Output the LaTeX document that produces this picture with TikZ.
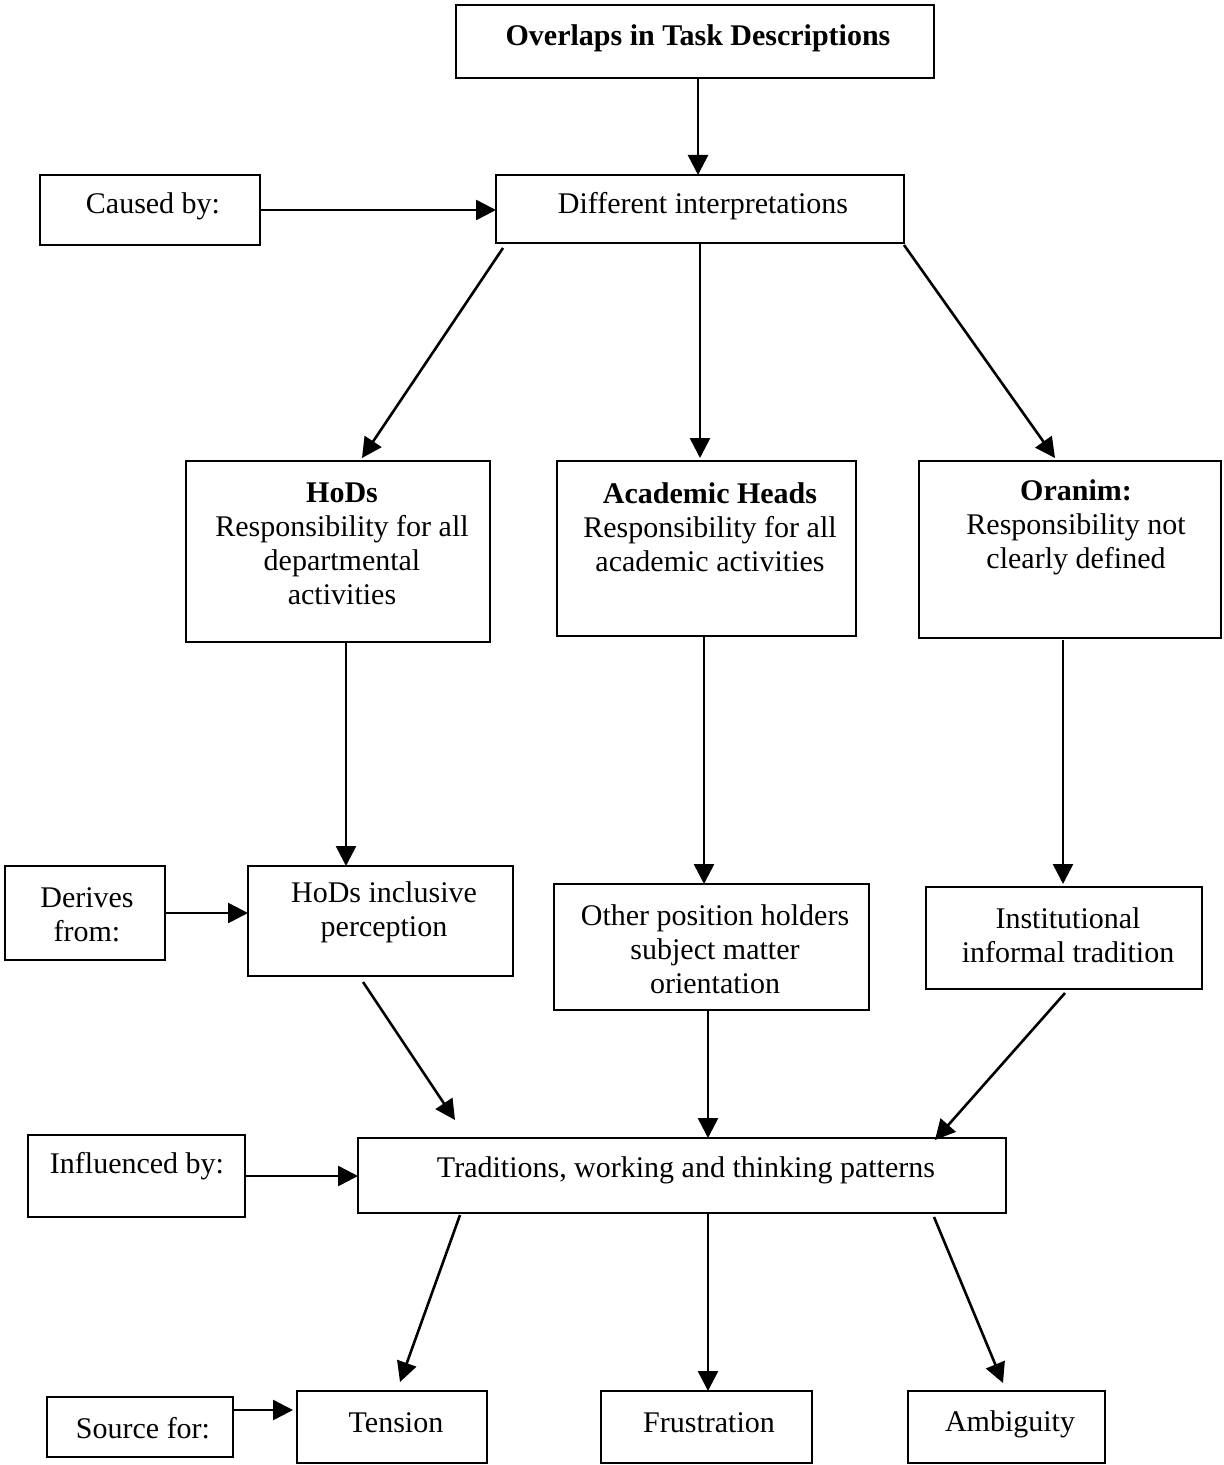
\documentclass[tikz,border=0pt]{standalone}
\usepackage{fontspec}
\setmainfont{Liberation Serif}
\usetikzlibrary{calc,arrows.meta,fit}
\begin{document}
\begin{tikzpicture}[x=0.5pt,y=-0.5pt,
  box/.style={draw,line width=1.3pt,inner sep=0pt,outer sep=0pt},
  lbl/.style={font=\fontsize{15}{17}\selectfont,align=center,inner sep=0pt},
  arr/.style={-{Triangle[length=10pt,width=10pt]},line width=1.3pt}]
\useasboundingbox (0,0) rectangle (1223,1465);
% boxes
\node[box,fit={(456,5) (934,78)}] (over) {};
\node[box,fit={(40,175) (260,245)}] (caused) {};
\node[box,fit={(496,175) (904,243)}] (diff) {};
\node[box,fit={(186,461) (490,642)}] (hods) {};
\node[box,fit={(557,461) (856,636)}] (acad) {};
\node[box,fit={(919,461) (1221,638)}] (oran) {};
\node[box,fit={(5,866) (165,960)}] (derives) {};
\node[box,fit={(248,866) (513,976)}] (hodsinc) {};
\node[box,fit={(554,884) (869,1010)}] (other) {};
\node[box,fit={(926,887) (1202,989)}] (inst) {};
\node[box,fit={(28,1135) (245,1217)}] (infl) {};
\node[box,fit={(358,1138) (1006,1213)}] (trad) {};
\node[box,fit={(47,1397) (233,1457)}] (source) {};
\node[box,fit={(297,1391) (487,1463)}] (tension) {};
\node[box,fit={(601,1391) (812,1463)}] (frust) {};
\node[box,fit={(908,1391) (1105,1463)}] (ambig) {};
% texts
\node[lbl] (t1) at (698,38) {\textbf{Overlaps in Task Descriptions}};
\node[lbl] (t2) at (153,206) {Caused by:};
\node[lbl] (t3) at (703,206) {Different interpretations};
\node[lbl] (t4) at (342,544) {\textbf{HoDs}\\Responsibility for all\\departmental\\activities};
\node[lbl] (t5) at (710,527) {\textbf{Academic Heads}\\Responsibility for all\\academic activities};
\node[lbl] (t6) at (1076,527) {\textbf{Oranim:}\\Responsibility not\\clearly defined};
\node[lbl] (t7) at (87,915) {Derives\\from:};
\node[lbl] (t8) at (384,912) {HoDs inclusive\\perception};
\node[lbl] (t9) at (715,949) {Other position holders\\subject matter\\orientation};
\node[lbl] (t10) at (1068,935) {Institutional\\informal tradition};
\node[lbl] (t11) at (137,1166) {Influenced by:};
\node[lbl] (t12) at (686,1170) {Traditions, working and thinking patterns};
\node[lbl] (t13) at (143,1428) {Source for:};
\node[lbl] (t14) at (396,1423) {Tension};
\node[lbl] (t15) at (709,1423) {Frustration};
\node[lbl] (t16) at (1010,1424) {Ambiguity};
% arrows
\draw[arr] ($(over.south)+(3,0)$) -- ($(diff.north west)+(202,0)$);
\draw[arr] (caused.east) -- (caused.east -| diff.west);
\draw[arr] ($(diff.south west)+(7,5)$) -- ($(hods.north west)+(176,-3)$);
\draw[arr] ($(diff.south west)+(204,0)$) -- ($(acad.north west)+(143,-3)$);
\draw[arr] ($(diff.south east)+(0,2)$) -- ($(oran.north west)+(136,-3)$);
\draw[arr] ($(hods.south west)+(160,0)$) -- ($(hodsinc.north west)+(98,0)$);
\draw[arr] ($(acad.south west)+(147,0)$) -- ($(other.north west)+(150,0)$);
\draw[arr] ($(oran.south west)+(144,2)$) -- ($(inst.north west)+(137,-3)$);
\draw[arr] (derives.east) -- (derives.east -| hodsinc.west);
\draw[arr] ($(hodsinc.south west)+(115,6)$) -- ($(trad.north west)+(97,-18)$);
\draw[arr] ($(other.south west)+(154,0)$) -- ($(trad.north west)+(350,0)$);
\draw[arr] ($(inst.south west)+(139,4)$) -- ($(trad.north east)+(-71,2)$);
\draw[arr] (infl.east) -- (infl.east -| trad.west);
\draw[arr] ($(trad.south west)+(102,2)$) -- ($(tension.north west)+(103,-9)$);
\draw[arr] ($(trad.south west)+(350,0)$) -- ($(frust.north west)+(107,0)$);
\draw[arr] ($(trad.south east)+(-72,4)$) -- ($(ambig.north west)+(95,-8)$);
\draw[arr] ($(source.north east)+(0,13)$) -- ($(tension.north west)+(-4,19)$);
\end{tikzpicture}
\end{document}
